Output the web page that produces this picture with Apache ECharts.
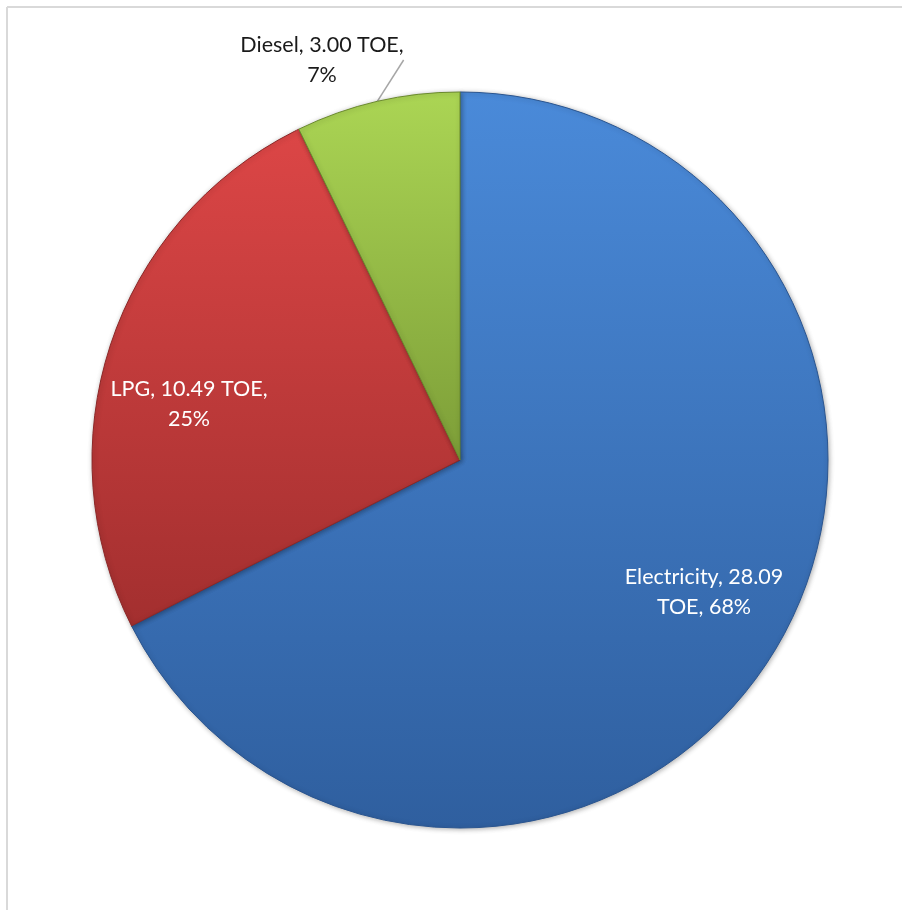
<!DOCTYPE html>
<html>
<head>
<meta charset="utf-8">
<script src="https://cdn.jsdelivr.net/npm/echarts@6/dist/echarts.min.js"></script>
<style>
  html, body { margin: 0; padding: 0; background: #fff; }
  #chart { width: 902px; height: 910px; }
</style>
</head>
<body>
<div id="chart"></div>
<script>
const fuels = ['Electricity', 'LPG', 'Diesel']
const toe = [28.09, 10.49, 3.00]
const shares = ['68%', '25%', '7%']

// top / bottom gradient colours per slice
const topColors = ['#4a8ad9', '#dc4646', '#abd554']
const bottomColors = ['#2f5f9f', '#a32f2f', '#7d9e38']
const edgeColors = ['#2a5590', '#8c2828', '#6b8a2e']

// where each label sits
const labelSpots = [
  { x: 704, y: 592 },
  { x: 189, y: 404 },
  { x: 322, y: 60 }
]

const chart = echarts.init(document.getElementById('chart'))

const seriesData = fuels.map((name, i) => ({
  name,
  value: toe[i],
  itemStyle: {
    color: new echarts.graphic.LinearGradient(0, 0, 0, 1, [
      { offset: 0, color: topColors[i] },
      { offset: 1, color: bottomColors[i] }
    ]),
    borderColor: edgeColors[i]
  },
  label: i === 2
    ? { position: 'outside', color: '#1a1a1a' }
    : { position: 'inside', color: '#ffffff' },
  labelLine: { show: i === 2 }
}))

const option = {
  backgroundColor: '#ffffff',
  animation: false,
  graphic: [
    { type: 'line', shape: { x1: 7, y1: 7, x2: 902, y2: 7 }, style: { stroke: '#d9d9d9', lineWidth: 2 } },
    { type: 'line', shape: { x1: 7, y1: 7, x2: 7, y2: 910 }, style: { stroke: '#d9d9d9', lineWidth: 2 } }
  ],
  series: [
    {
      type: 'pie',
      center: [460, 460],
      radius: [0, 368],
      startAngle: 90,
      clockwise: true,
      avoidLabelOverlap: false,
      itemStyle: {
        borderWidth: 1,
        shadowBlur: 5,
        shadowColor: 'rgba(0,0,0,0.3)',
        shadowOffsetX: 1,
        shadowOffsetY: 1
      },
      label: {
        show: true,
        fontFamily: 'Lato',
        fontSize: 21.5,
        lineHeight: 30,
        align: 'center',
        formatter: (p) => {
          const i = p.dataIndex
          const v = toe[i].toFixed(2)
          if (i === 0) return `${p.name}, ${v}\nTOE, ${shares[i]}`
          return `${p.name}, ${v} TOE,\n${shares[i]}`
        }
      },
      labelLine: {
        lineStyle: { color: '#a6a6a6', width: 1.5 },
        length: 10,
        length2: 0
      },
      labelLayout: (params) => {
        const spot = labelSpots[params.dataIndex]
        return { x: spot.x, y: spot.y, align: 'center', verticalAlign: 'middle' }
      },
      data: seriesData
    }
  ]
}

chart.setOption(option)

window.addEventListener('resize', () => {
  chart?.resize()
})
</script>
</body>
</html>
